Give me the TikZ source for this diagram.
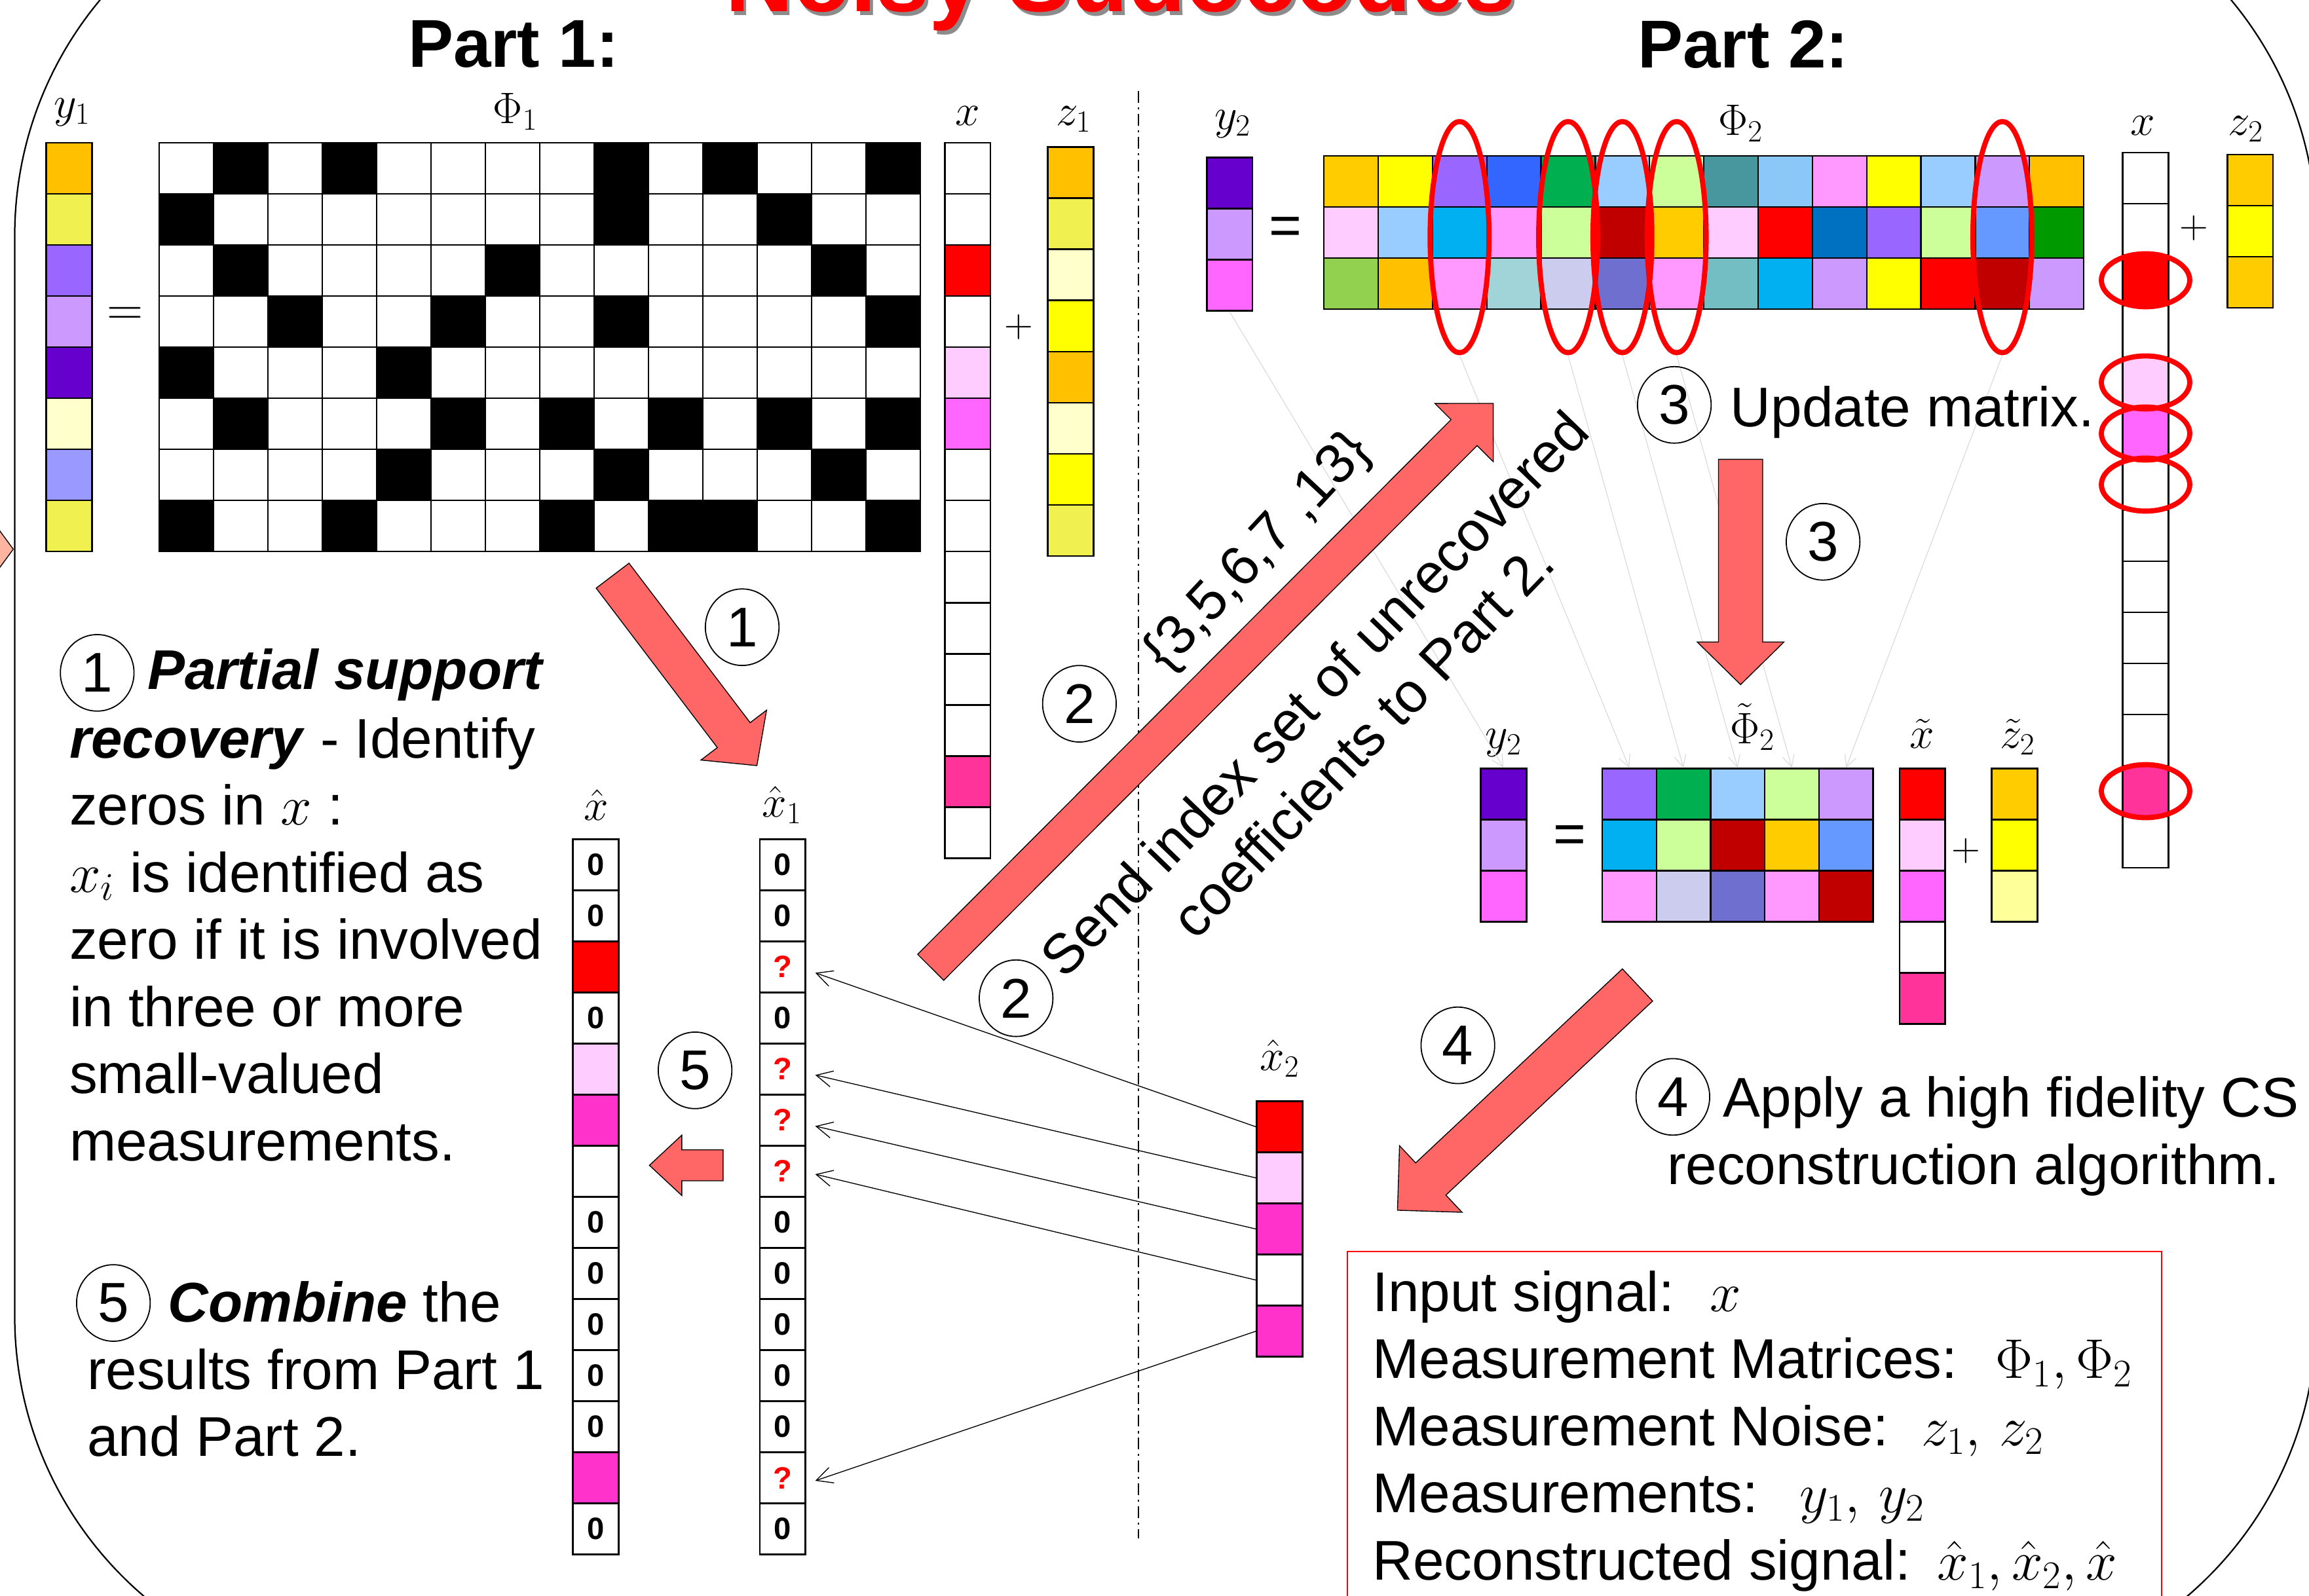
\RequirePackage{fix-cm}
\documentclass[tikz,border=0pt]{standalone}
\usepackage{fontspec}
\setmainfont{Liberation Sans}
\usetikzlibrary{positioning,calc,shapes.geometric,arrows.meta}

\definecolor{orng}{HTML}{FFC000}
\definecolor{gold}{HTML}{FFCC00}
\definecolor{ylw}{HTML}{FFFF00}
\definecolor{dylw}{HTML}{F0F050}
\definecolor{lylw}{HTML}{FFFFCC}
\definecolor{pylw}{HTML}{FFFF99}
\definecolor{purp}{HTML}{9966FF}
\definecolor{lpurp}{HTML}{CC99FF}
\definecolor{dpurp}{HTML}{6600CC}
\definecolor{bpurp}{HTML}{9999FF}
\definecolor{dred}{HTML}{C00000}
\definecolor{lpink}{HTML}{FFCCFF}
\definecolor{mag}{HTML}{FF66FF}
\definecolor{hpink}{HTML}{FF3399}
\definecolor{mpink}{HTML}{FF33CC}
\definecolor{pnk}{HTML}{FF99FF}
\definecolor{blu}{HTML}{3366FF}
\definecolor{grn}{HTML}{00B050}
\definecolor{lblu}{HTML}{99CCFF}
\definecolor{lgrn}{HTML}{CCFF99}
\definecolor{tl}{HTML}{48979E}
\definecolor{skyb}{HTML}{8BC8F8}
\definecolor{cyn}{HTML}{00B0F0}
\definecolor{mblu}{HTML}{0070C0}
\definecolor{bblu}{HTML}{6699FF}
\definecolor{dgrn}{HTML}{009900}
\definecolor{ygrn}{HTML}{92D050}
\definecolor{lteal}{HTML}{A0D4D8}
\definecolor{lvgr}{HTML}{CCCCEE}
\definecolor{slate}{HTML}{6F6FCF}
\definecolor{mteal}{HTML}{73BEC3}
\definecolor{salmon}{HTML}{FF6666}
\definecolor{peach}{HTML}{FFB4A0}
\colorlet{wt}{white}
\colorlet{bk}{black}

% one column vector: name, centre x, top y, colours
\newcommand\colvec[4]{%
  \foreach \col [count=\i] in {#4}
    \node[cell, fill=\col] (#1-\i) at (#2, {#3+(\i-0.5)*34.7}) {};
}
% a matrix of coloured cells: name, left x, top y, cell width, rows
\newcommand\colmat[5]{%
  \foreach \row [count=\ri] in {#5}{
    \foreach \col [count=\ci] in \row
      \node[mcell, minimum width=#4pt, fill=\col] (#1-\ri-\ci) at ({#2+(\ci-0.5)*#4}, {#3+(\ri-0.5)*34.7}) {};
  }}
% block arrow: tail, tip, half shaft, half head, head length
\newcommand\fatarrow[5]{%
  \coordinate (fabase) at ($(#2)!#5!(#1)$);
  \filldraw[fat] ($(#1)!#3!90:(#2)$) -- ($(fabase)!#3!90:(#2)$) -- ($(fabase)!#4!90:(#2)$) -- (#2)
    -- ($(fabase)!#4!-90:(#2)$) -- ($(fabase)!#3!-90:(#2)$) -- ($(#1)!#3!-90:(#2)$) -- cycle;
}
\newcommand\unk{\textcolor{red}{?}}

\begin{document}
\begin{tikzpicture}[x=1pt,y=-1pt,
  cell/.style={draw, line width=1.2pt, minimum width=31pt, minimum height=34.7pt, inner sep=0pt, font=\fontsize{21}{21}\selectfont\bfseries},
  mcell/.style={draw, line width=1pt, minimum height=34.7pt, inner sep=0pt},
  ring/.style={draw=red, line width=3.5pt, ellipse, inner sep=0pt},
  num/.style={draw, ellipse, line width=0.8pt, minimum width=50pt, minimum height=52pt, inner sep=0pt, font=\fontsize{38}{38}\selectfont},
  body/.style={font=\fontsize{38}{45.6}\selectfont, inner sep=0pt, anchor=base west, align=left},
  lab/.style={font=\fontsize{30}{32}\selectfont, inner sep=0pt, anchor=base},
  sign/.style={font=\fontsize{34}{34}\selectfont, inner sep=0pt},
  fat/.style={fill=salmon, draw=black, line width=0.6pt},
  faint/.style={draw=black!15, line width=0.5pt, -{Straight Barb[length=8pt,width=8pt]}},
  thinarr/.style={line width=0.6pt, -{Straight Barb[length=11pt,width=11pt]}}
]
\useasboundingbox (0,0) rectangle (1568,1084);
\clip (0,0) rectangle (1568,1084);

% frame and title
\draw[line width=1pt, rounded corners=250pt] (10,-90) rectangle (1573,1144);
\filldraw[fill=peach, draw=black, line width=0.6pt] (-2,358) -- (9,373) -- (-2,388);
\node[font=\fontsize{64}{64}\selectfont\bfseries, text=black!45, anchor=base] (ttlsh) at (763,10.5) {Noisy Sudocodes};
\node[font=\fontsize{64}{64}\selectfont\bfseries, text=red, anchor=base] (ttl) at (761,8) {Noisy Sudocodes};
\node[font=\fontsize{46}{46}\selectfont\bfseries, anchor=base west, inner sep=0pt] (part1) at (277,45.5) {Part 1:};
\node[font=\fontsize{46}{46}\selectfont\bfseries, anchor=base west, inner sep=0pt] (part2) at (1112,46) {Part 2:};
\draw[line width=0.8pt, dash pattern=on 8pt off 3pt on 1.5pt off 3pt] (773,62) -- (773,1045);

% Part 1
\colvec{yone}{47}{97}{orng,dylw,purp,lpurp,dpurp,lylw,bpurp,dylw}
\colmat{pone}{108}{97}{36.93}{{wt,bk,wt,bk,wt,wt,wt,wt,bk,wt,bk,wt,wt,bk},
  {bk,wt,wt,wt,wt,wt,wt,wt,bk,wt,wt,bk,wt,wt},
  {wt,bk,wt,wt,wt,wt,bk,wt,wt,wt,wt,wt,bk,wt},
  {wt,wt,bk,wt,wt,bk,wt,wt,bk,wt,wt,wt,wt,bk},
  {bk,wt,wt,wt,bk,wt,wt,wt,wt,wt,wt,wt,wt,wt},
  {wt,bk,wt,wt,wt,bk,wt,bk,wt,bk,wt,bk,wt,bk},
  {wt,wt,wt,wt,bk,wt,wt,wt,bk,wt,wt,wt,bk,wt},
  {bk,wt,wt,bk,wt,wt,wt,bk,wt,bk,bk,wt,wt,bk}}
\colvec{xa}{657}{97}{wt,wt,red,wt,lpink,mag,wt,wt,wt,wt,wt,wt,hpink,wt}
\colvec{zone}{727}{100}{orng,dylw,lylw,ylw,orng,lylw,ylw,dylw}
\node[lab] (lyone) at (49,80) {$y_1$};
\node[lab] (lpone) at (350,84) {$\Phi_1$};
\node[lab] (lxa) at (657,85) {$x$};
\node[lab] (lzone) at (729,85) {$z_1$};
\node[sign] (eqa) at (85,215) {$=$};
\node[sign, font=\fontsize{27}{27}\selectfont] (pla) at (692,222) {$+$};

% Part 2
\colvec{ytwo}{835}{107}{dpurp,lpurp,mag}
\colmat{ptwo}{899}{106}{36.86}{{gold,ylw,purp,blu,grn,lblu,lgrn,tl,skyb,pnk,ylw,lblu,lpurp,orng},
  {lpink,lblu,cyn,pnk,lgrn,dred,gold,lpink,red,mblu,purp,lgrn,bblu,dgrn},
  {ygrn,orng,pnk,lteal,lvgr,slate,pnk,mteal,cyn,lpurp,ylw,red,dred,lpurp}}
\colvec{xb}{1457}{103.6}{wt,wt,red,wt,lpink,mag,wt,wt,wt,wt,wt,wt,hpink,wt}
\colvec{ztwo}{1528}{105}{gold,ylw,gold}
\node[lab] (lytwo) at (837,88) {$y_2$};
\node[lab] (lptwo) at (1182,92) {$\Phi_2$};
\node[lab] (lxb) at (1455,92) {$x$};
\node[lab] (lztwo) at (1525,92) {$z_2$};
\node[sign, font=\fontsize{38}{38}\selectfont] (eqb) at (873,157) {=};
\node[sign, font=\fontsize{27}{27}\selectfont] (plb) at (1490,155) {$+$};
\foreach \k in {3,5,6,7,13}
  \node[ring, minimum width=40pt, minimum height=157pt] (e\k) at ([yshift=-3pt]ptwo-2-\k) {};
\foreach \k in {3,5,6,7,13}
  \node[ring, minimum width=60pt, minimum height=36pt] (r\k) at (xb-\k) {};

% reduced system
\colvec{ytl}{1021}{522}{dpurp,lpurp,mag}
\colmat{ptl}{1088}{522}{36.8}{{purp,grn,lblu,lgrn,lpurp},
  {cyn,lgrn,dred,gold,bblu},
  {pnk,lvgr,slate,pnk,dred}}
\colvec{xtl}{1305.5}{522}{red,lpink,mag,wt,hpink}
\colvec{ztl}{1368}{522}{gold,ylw,pylw}
\node[lab] (lytl) at (1021,508) {$y_2$};
\node[lab] (lptl) at (1190,505) {$\tilde{\Phi}_2$};
\node[lab] (lxtl) at (1305,508) {$\tilde{x}$};
\node[lab] (lztl) at (1370,508) {$\tilde{z}_2$};
\node[sign, font=\fontsize{38}{38}\selectfont] (eqc) at (1066,570) {=};
\node[sign, font=\fontsize{27}{27}\selectfont] (plc) at (1335,578) {$+$};
\draw[faint] (ytwo-3.south) -- (ytl-1.north);
\draw[faint] (e3.south) -- (ptl-1-1.north);
\draw[faint] (e5.south) -- (ptl-1-2.north);
\draw[faint] (e6.south) -- (ptl-1-3.north);
\draw[faint] (e7.south) -- (ptl-1-4.north);
\draw[faint] (e13.south) -- (ptl-1-5.north);

% estimates
\foreach \col/\t [count=\i] in {wt/0,wt/0,red/,wt/0,lpink/,mpink/,wt/,wt/0,wt/0,wt/0,wt/0,wt/0,mpink/,wt/0}
  \node[cell, fill=\col] (xh-\i) at (404.5, {570+(\i-0.5)*34.7}) {\t};
\foreach \t [count=\i] in {0,0,\unk,0,\unk,\unk,\unk,0,0,0,0,0,\unk,0}
  \node[cell] (xhone-\i) at (531.5, {570+(\i-0.5)*34.7}) {\t};
\colvec{xhtwo}{869}{748}{red,lpink,mpink,wt,mpink}
\node[lab] (lxh) at (405,557) {$\hat{x}$};
\node[lab] (lxhone) at (531,555) {$\hat{x}_1$};
\node[lab] (lxhtwo) at (869,727) {$\hat{x}_2$};
\draw[thinarr] (xhtwo-1.west) -- ([xshift=6pt,yshift=-4pt]xhone-3.east);
\draw[thinarr] (xhtwo-2.west) -- ([xshift=6pt,yshift=-4pt]xhone-5.east);
\draw[thinarr] (xhtwo-3.west) -- ([xshift=6pt,yshift=-4pt]xhone-6.east);
\draw[thinarr] (xhtwo-4.west) -- ([xshift=6pt,yshift=-2pt]xhone-7.east);
\draw[thinarr] (xhtwo-5.west) -- ([xshift=6pt,yshift=-2pt]xhone-13.east);

% block arrows
\coordinate (aone) at (416,391);   \coordinate (bone) at (514,520);
\coordinate (atwo) at (632,657);   \coordinate (btwo) at (1014,274);
\coordinate (athree) at (1182,312); \coordinate (bthree) at (1182,465);
\coordinate (afour) at (1112,669); \coordinate (bfour) at (949,822);
\coordinate (afive) at (491,791.5); \coordinate (bfive) at (441,791.5);
\fatarrow{aone}{bone}{14pt}{28pt}{26pt}
\fatarrow{atwo}{btwo}{12.5pt}{28pt}{28pt}
\fatarrow{athree}{bthree}{15pt}{29.5pt}{29pt}
\fatarrow{afour}{bfour}{15pt}{31pt}{31pt}
\fatarrow{afive}{bfive}{10.5pt}{20.5pt}{22pt}

% step numbers
\node[num] (n1a) at (504,426) {1};
\node[num] (n1b) at (66,457) {1};
\node[num] (n2a) at (733,478) {2};
\node[num] (n2b) at (690,678) {2};
\node[num] (n3a) at (1137,275) {3};
\node[num] (n3b) at (1238,368) {3};
\node[num] (n4a) at (990,710) {4};
\node[num] (n4b) at (1136,745) {4};
\node[num] (n5a) at (472,727) {5};
\node[num] (n5b) at (77,885) {5};

% texts (multi-line nodes sit on their last baseline)
\node[body] (s1a) at (100,468) {\textbf{\textit{Partial support}}};
\node[body] (s1b) at (47,788.3) {\textbf{\textit{recovery}} - Identify\\zeros in $x$ :\\$x_i$ is identified as\\zero if it is involved\\in three or more\\small-valued\\measurements.};
\node[body] (s5a) at (114,898) {\textbf{\textit{Combine}} the};
\node[body] (s5b) at (59,989.1) {results from Part 1\\and Part 2.};
\node[body] (s3) at (1175,290) {Update matrix.};
\node[body] (s4a) at (1170,758.5) {Apply a high fidelity CS};
\node[body] (s4b) at (1132,804.4) {reconstruction algorithm.};
\node[body, anchor=base, rotate=47] (idx) at (862,382) {\{3,5,6,7 ,13\}};
\node[body, anchor=base, align=center, rotate=46] (send) at (935,512) {Send index set of unrecovered\\coefficients to Part 2.};

% legend
\draw[red, line width=1pt] (915,850) rectangle (1468,1110);
\node[body] (leg) at (932,1073) {Input signal:\hspace{24pt}$x$\\Measurement Matrices:\hspace{26pt}$\Phi_1, \Phi_2$\\Measurement Noise:\hspace{22pt}$z_1,\, z_2$\\Measurements:\hspace{28pt}$y_1,\, y_2$\\Reconstructed signal:\hspace{18pt}$\hat{x}_1, \hat{x}_2, \hat{x}$};
\end{tikzpicture}
\end{document}
